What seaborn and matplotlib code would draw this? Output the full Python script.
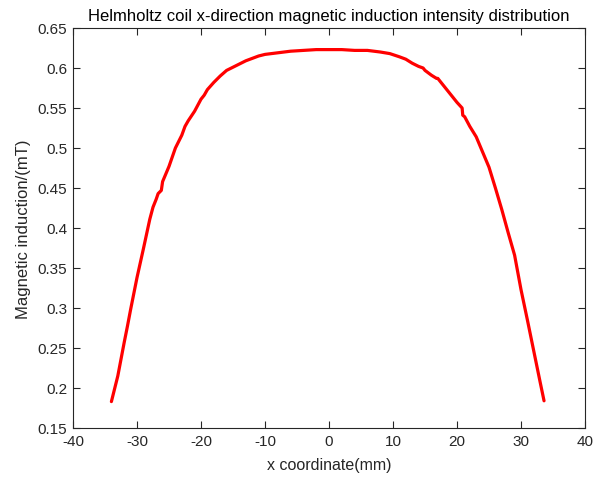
import matplotlib
matplotlib.use("Agg")
import matplotlib.pyplot as plt
import seaborn as sns
import pandas as pd

x_mm = [-34, -33, -32, -31.5, -31, -30, -29, -28, -27.5, -27, -26.7, -26.2, -26,
        -25, -24, -23, -22.5, -22, -21, -20, -19.5, -19, -18, -17, -16, -15, -14,
        -13, -12, -11, -10, -8, -6, -4, -2, 0, 2, 4, 6, 8, 9.5, 11, 12, 13, 14,
        14.7, 15, 16, 16.8, 17, 18, 19, 20, 20.8, 20.9, 21.2, 22, 23, 24, 25, 26,
        27, 28, 29, 30, 31, 32, 33, 33.6]
b_mT = [0.183, 0.215, 0.257, 0.277, 0.298, 0.338, 0.374, 0.411, 0.426, 0.436,
        0.443, 0.447, 0.458, 0.477, 0.500, 0.516, 0.527, 0.534, 0.546, 0.561,
        0.566, 0.573, 0.582, 0.590, 0.597, 0.601, 0.605, 0.609, 0.612, 0.615,
        0.617, 0.619, 0.621, 0.622, 0.623, 0.623, 0.623, 0.622, 0.622, 0.620,
        0.618, 0.614, 0.611, 0.606, 0.602, 0.600, 0.597, 0.591, 0.587, 0.587,
        0.577, 0.567, 0.557, 0.550, 0.541, 0.539, 0.527, 0.514, 0.495, 0.476,
        0.450, 0.423, 0.394, 0.366, 0.323, 0.285, 0.246, 0.207, 0.184]

x_ticks = [-40, -30, -20, -10, 0, 10, 20, 30, 40]
y_ticks = [0.15, 0.2, 0.25, 0.3, 0.35, 0.4, 0.45, 0.5, 0.55, 0.6, 0.65]
y_tick_labels = ["0.15", "0.2", "0.25", "0.3", "0.35", "0.4", "0.45", "0.5", "0.55", "0.6", "0.65"]

sns.set_theme(style="white")
plt.rcParams['font.family'] = ['Liberation Sans', 'DejaVu Sans']

df = pd.DataFrame({"x": x_mm, "B": b_mT})

fig = plt.figure(figsize=(6.02, 4.81), dpi=100)
ax = fig.add_axes([73/602, 1 - 429/481, 512/602, 400/481])
sns.lineplot(data=df, x="x", y="B", ax=ax, color="#ff0000", linewidth=2.3,
             estimator=None, sort=False)

dark = "#262626"
ax.set_xlim(-40, 40)
ax.set_ylim(0.15, 0.65)
ax.set_xticks(x_ticks)
ax.set_xticklabels([str(t) for t in x_ticks])
ax.set_yticks(y_ticks)
ax.set_yticklabels(y_tick_labels)
ax.tick_params(direction="in", length=5, width=0.8, top=True, right=True,
               bottom=True, left=True, labelsize=11, colors=dark, pad=4)
for s in ax.spines.values():
    s.set_color(dark)
    s.set_linewidth(0.8)
ax.set_xlabel("x coordinate(mm)", fontsize=11.5, color=dark, labelpad=7)
ax.set_ylabel("Magnetic induction/(mT)", fontsize=12, color=dark, labelpad=5)
ax.set_title("Helmholtz coil x-direction magnetic induction intensity distribution",
             fontsize=12, color="black", pad=6)

fig.savefig("out.png", dpi=100)
